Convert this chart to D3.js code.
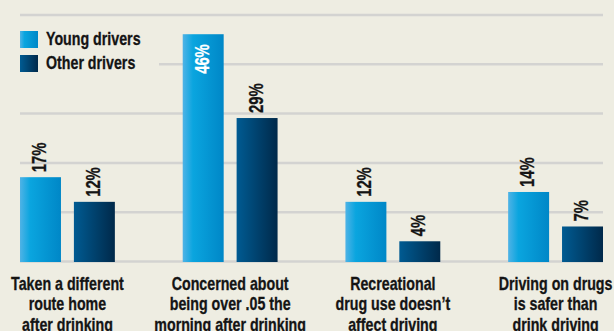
<!DOCTYPE html>
<html>
<head>
<meta charset="utf-8">
<script src="https://cdn.jsdelivr.net/npm/d3@7"></script>
<style>
  html, body { margin: 0; padding: 0; background: #eeede2; }
  svg { display: block; }
  text { font-family: "Liberation Sans", Arial, sans-serif; font-weight: bold; }
</style>
</head>
<body>
<div id="chart"></div>
<script>
var categories = [
	["Taken a different", "route home", "after drinking"],
	["Concerned about", "being over .05 the", "morning after drinking"],
	["Recreational", "drug use doesn\u2019t", "affect driving"],
	["Driving on drugs", "is safer than", "drink driving"]
];
var seriesNames = ["Young drivers", "Other drivers"];
var youngValues = [17, 46, 12, 14];
var otherValues = [12, 29, 4, 7];
var gridTicks = [0, 10, 20, 30, 40, 50];

var elWidth = 614, elHeight = 331;
var baseY = 261;
var narrow = 0.79; // fake a condensed face
var ink = "#141414";

var svg = d3.select("#chart").append("svg")
	.attr("width", elWidth)
	.attr("height", elHeight);

var defs = svg.append("defs");
function grad(id, stops) {
	var g = defs.append("linearGradient").attr("id", id)
		.attr("x1", "0%").attr("x2", "100%").attr("y1", "0%").attr("y2", "0%");
	stops.forEach(function(s) {
		g.append("stop").attr("offset", s[0]).attr("stop-color", s[1]);
	});
}
grad("gYoung", [["0%", "#4fb3e6"], ["25%", "#0aa5df"], ["100%", "#0087c7"]]);
grad("gOther", [["0%", "#005b92"], ["100%", "#00294a"]]);
var fills = {"Young drivers": "url(#gYoung)", "Other drivers": "url(#gOther)"};

var x0 = d3.scaleBand()
	.domain(d3.range(categories.length))
	.range([20, 603])
	.paddingInner(0.417)
	.paddingOuter(0);

var x1 = d3.scaleBand()
	.domain(seriesNames)
	.range([0, x0.bandwidth()])
	.paddingInner(0.24);

var y = d3.scaleLinear().domain([0, 50]).range([baseY, 14.5]);

// grid lines
var grid = svg.append("g")
	.attr("transform", "translate(20,0)")
	.call(d3.axisLeft(y).tickValues(gridTicks).tickSize(-583).tickFormat(""));
grid.select(".domain").remove();
grid.selectAll(".tick line")
	.attr("stroke", "#d3d3d1")
	.attr("stroke-width", 2.5);

var data = categories.map(function(c, i) {
	return {i: i, values: [
		{key: "Young drivers", value: youngValues[i]},
		{key: "Other drivers", value: otherValues[i]}
	]};
});

var groups = svg.selectAll(".grp").data(data).enter().append("g")
	.attr("class", "grp")
	.attr("transform", function(d) { return "translate(" + x0(d.i) + ",0)"; });

groups.selectAll("rect").data(function(d) { return d.values; }).enter().append("rect")
	.attr("x", function(d) { return x1(d.key); })
	.attr("y", function(d) { return y(d.value); })
	.attr("width", x1.bandwidth())
	.attr("height", function(d) { return baseY + 1 - y(d.value); })
	.attr("fill", function(d) { return fills[d.key]; });

// value labels, rotated
groups.selectAll(".val").data(function(d) { return d.values; }).enter().append("text")
	.attr("class", "val")
	.attr("transform", function(d) {
		var cx = x1(d.key) + x1.bandwidth() / 2 + 5.5;
		var inside = d.value > 40;
		var ty = inside ? y(d.value) + 10 : y(d.value) - 5;
		return "translate(" + cx + "," + ty + ") rotate(-90) scale(0.76,1)";
	})
	.attr("text-anchor", function(d) { return d.value > 40 ? "end" : "start"; })
	.attr("font-size", 19.5)
	.attr("fill", function(d) { return d.value > 40 ? "#ffffff" : ink; })
	.attr("stroke", function(d) { return d.value > 40 ? "#ffffff" : ink; })
	.attr("stroke-width", 0.3)
	.text(function(d) { return d.value + "%"; });

// category labels
groups.each(function(d) {
	var t = d3.select(this).append("text")
		.attr("transform", "translate(" + (x0.bandwidth() / 2) + ",290) scale(" + narrow + ",1)")
		.attr("text-anchor", "middle")
		.attr("font-size", 18)
		.attr("fill", ink)
		.attr("stroke", ink)
		.attr("stroke-width", 0.3);
	categories[d.i].forEach(function(line, k) {
		t.append("tspan")
			.attr("x", 0)
			.attr("y", k * 20.5)
			.text(line);
	});
});

// legend (covers the grid behind it)
var legend = svg.append("g");
legend.append("rect")
	.attr("x", 8).attr("y", 24).attr("width", 151).attr("height", 56)
	.attr("fill", "#eeede2");
seriesNames.forEach(function(name, k) {
	legend.append("rect")
		.attr("x", 20).attr("y", 31 + k * 24)
		.attr("width", 18).attr("height", 17)
		.attr("fill", fills[name]);
	legend.append("text")
		.attr("transform", "translate(46," + (45 + k * 24) + ") scale(" + narrow + ",1)")
		.attr("font-size", 18)
		.attr("fill", ink)
		.attr("stroke", ink)
		.attr("stroke-width", 0.3)
		.text(name);
});
</script>
</body>
</html>
